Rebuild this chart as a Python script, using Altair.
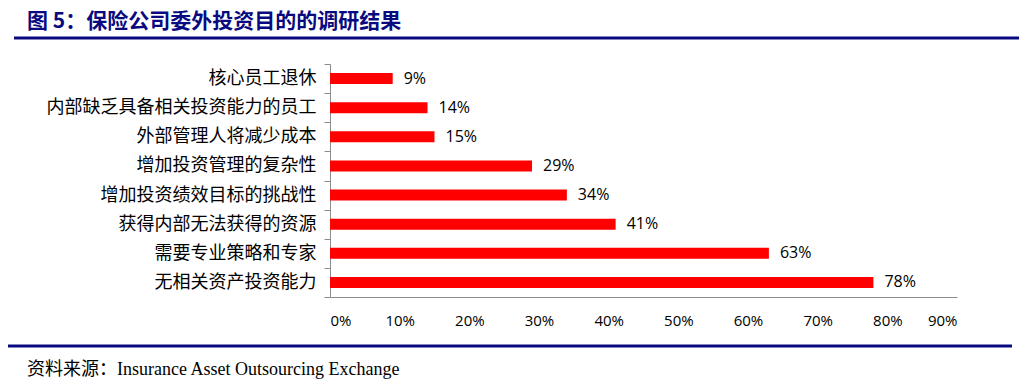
import altair as alt
import pandas as pd

categories = ["核心员工退休", "内部缺乏具备相关投资能力的员工", "外部管理人将减少成本",
              "增加投资管理的复杂性", "增加投资绩效目标的挑战性", "获得内部无法获得的资源",
              "需要专业策略和专家", "无相关资产投资能力"]
values = [0.09, 0.14, 0.15, 0.29, 0.34, 0.41, 0.63, 0.78]
x_ticks = [0.0, 0.1, 0.2, 0.3, 0.4, 0.5, 0.6, 0.7, 0.8, 0.9]
title_text = "图 5：保险公司委外投资目的的调研结果"
source_text = "资料来源：Insurance Asset Outsourcing Exchange"

df = pd.DataFrame({"cat": categories, "val": values})
dummy = pd.DataFrame({"a": [0]})

NAVY = "#0a0a80"
GRAY = "#8c8c8c"

y_enc = alt.Y("cat:N", sort=categories,
              scale=alt.Scale(paddingInner=0, paddingOuter=0),
              axis=alt.Axis(title=None, tickBand="extent", domainColor=GRAY, tickColor=GRAY,
                            tickSize=6, labelFont="Noto Sans CJK SC", labelFontSize=18,
                            labelColor="#000000", labelPadding=8, labelLimit=400))
x_enc = alt.X("val:Q", scale=alt.Scale(domain=[0, 0.9], nice=False),
              axis=alt.Axis(title=None, values=x_ticks, format=".0%", grid=False, ticks=False,
                            domainColor=GRAY, labelFont="Open Sans", labelFontSize=15,
                            labelColor="#000000", labelPadding=16))

bars = alt.Chart(df).mark_bar(color="#ff0000", height={"band": 0.38}).encode(x=x_enc, y=y_enc)

labels = alt.Chart(df).mark_text(align="left", baseline="middle", dx=11, font="Open Sans",
                                 fontSize=16, color="#000000").encode(
    x="val:Q", y=alt.Y("cat:N", sort=categories), text=alt.Text("val:Q", format=".0%"))

title = alt.Chart(dummy).mark_text(align="left", baseline="middle", font="Noto Sans CJK SC",
                                   fontSize=21, fontWeight="bold", color=NAVY,
                                   text=title_text).encode(x=alt.value(-303), y=alt.value(-42))

top_line = alt.Chart(dummy).mark_rule(color=NAVY, strokeWidth=3).encode(
    x=alt.value(-316), x2=alt.value(690), y=alt.value(-26))

bottom_line = alt.Chart(dummy).mark_rule(color=NAVY, strokeWidth=3).encode(
    x=alt.value(-323), x2=alt.value(682), y=alt.value(282))

source = alt.Chart(dummy).mark_text(align="left", baseline="middle",
                                    font="Liberation Serif, Noto Sans CJK SC",
                                    fontSize=18, color="#000000",
                                    text=source_text).encode(x=alt.value(-303), y=alt.value(306))

chart = alt.layer(bars, labels, title, top_line, bottom_line, source).properties(
    width=627, height=233,
    autosize=alt.AutoSizeParams(type="none"),
    padding={"left": 322, "top": 56, "right": 62, "bottom": 87},
).configure(background="#ffffff").configure_view(strokeWidth=0, stroke="transparent")

chart.save("out.html", embed_options={"renderer": "svg", "actions": False})
